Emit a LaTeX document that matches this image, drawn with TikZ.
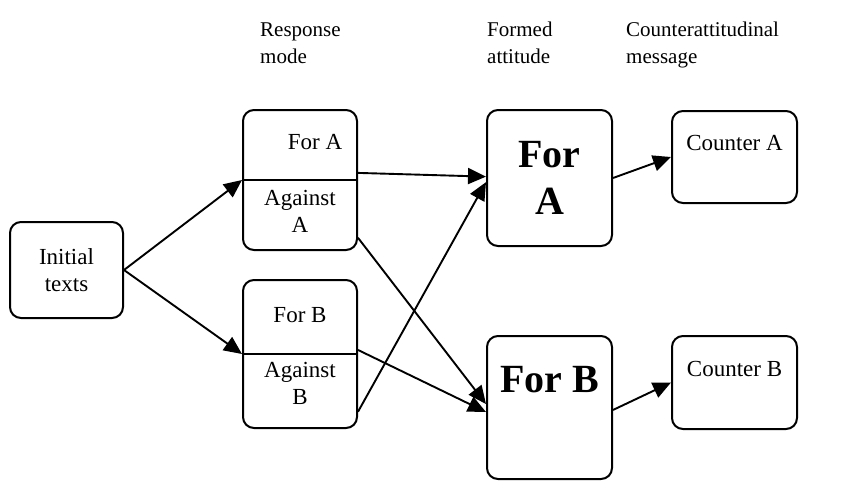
\documentclass[tikz,border=0pt]{standalone}
\usepackage{fontspec}
\setmainfont{Liberation Serif}
\usetikzlibrary{arrows.meta,calc}

\tikzset{
  box/.style={draw, line width=2pt, rounded corners=11pt, inner sep=0pt},
  txt/.style={inner sep=0pt, align=center, font=\fontsize{23}{27}\selectfont},
  head/.style={inner sep=0pt, align=left, anchor=base west, font=\fontsize{21}{27}\selectfont},
  big/.style={inner sep=0pt, align=center, font=\fontsize{40}{47}\selectfont\bfseries},
  link/.style={line width=1.9pt, -{Triangle[length=18pt,width=16pt]}},
  divider/.style={line width=2pt}
}

\begin{document}
\begin{tikzpicture}[x=1pt, y=-1pt]
  \useasboundingbox (0,0) rectangle (841,480);

  % column headings (anchored on the baseline of their second line)
  \node[head] (hResp) at (260,63) {Response\\mode};
  \node[head] (hForm) at (487,63) {Formed\\attitude};
  \node[head] (hCount) at (626,63) {Counterattitudinal\\message};

  % boxes
  \node[box, minimum width=113pt, minimum height=96pt] (init) at (66.5,270) {};
  \node[box, minimum width=114pt, minimum height=140pt] (rA) at (300,180) {};
  \node[box, minimum width=114pt, minimum height=148pt] (rB) at (300,354) {};
  \node[box, minimum width=125pt, minimum height=136pt] (fA) at (549.5,178) {};
  \node[box, minimum width=125pt, minimum height=143pt] (fB) at (549.5,407.5) {};
  \node[box, minimum width=125pt, minimum height=92pt] (cA) at (734.5,157) {};
  \node[box, minimum width=125pt, minimum height=93pt] (cB) at (734.5,382.5) {};

  % split lines of the response-mode boxes
  \draw[divider] (rA.west) -- (rA.east);
  \draw[divider] (rB.west) -- (rB.east);

  % box texts
  \node[txt] (tInit) at (66.5,270) {Initial\\texts};
  \node[txt] (tForA) at (315,142) {For A};
  \node[txt] (tAgA) at (300,211) {Against\\A};
  \node[txt] (tForB) at (300,315) {For B};
  \node[txt] (tAgB) at (300,383) {Against\\B};
  \node[big] (tFA) at (549.5,178) {For\\A};
  \node[big] (tFB) at (549.5,380) {For B};
  \node[txt] (tCA) at (734.5,143) {Counter A};
  \node[txt] (tCB) at (734.5,369) {Counter B};

  % connectors
  \draw[link] (init.east) -- (rA.west);
  \draw[link] (init.east) -- (rB.west);
  \draw[link] ($(rA.north east)!0.45!(rA.south east)$) -- ($(fA.north west)!0.49!(fA.south west)$);
  \draw[link] ($(rA.north east)!0.907!(rA.south east)$) -- ($(fB.north west)!0.476!(fB.south west)$);
  \draw[link] ($(rB.north east)!0.473!(rB.south east)$) -- ($(fB.north west)!0.531!(fB.south west)$);
  \draw[link] ($(rB.north east)!0.885!(rB.south east)$) -- ($(fA.north west)!0.53!(fA.south west)$);
  \draw[link] (fA.east) -- (cA.west);
  \draw[link] ($(fB.north east)!0.517!(fB.south east)$) -- (cB.west);
\end{tikzpicture}
\end{document}
